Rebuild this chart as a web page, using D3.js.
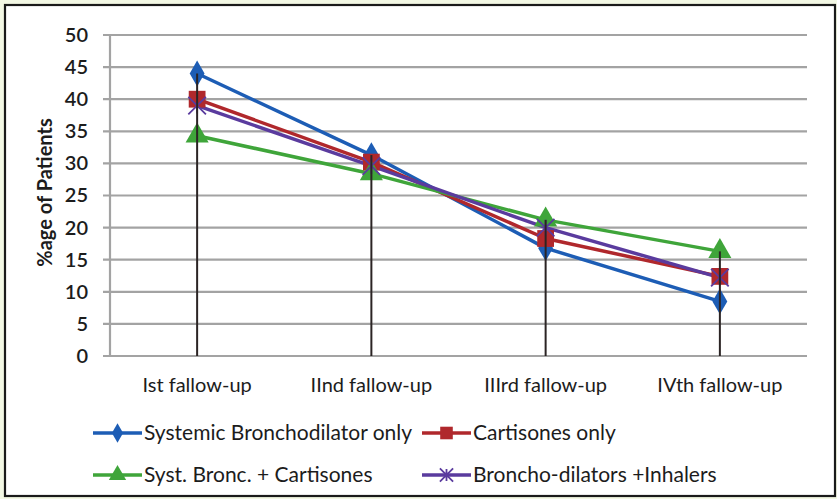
<!DOCTYPE html>
<html>
<head>
<meta charset="utf-8">
<script src="https://cdn.jsdelivr.net/npm/d3@7"></script>
<style>
  html, body { margin: 0; padding: 0; background: #f3f8e4; }
  svg { display: block; }
  text { font-family: "Lato", "Open Sans", sans-serif; fill: #1c1c1c; }
</style>
</head>
<body>
<svg id="chart" width="837" height="499"></svg>
<script>
// Follow-up visits (x axis)
const categories = ["Ist fallow-up", "IInd fallow-up", "IIIrd fallow-up", "IVth fallow-up"];

// Percentage of patients per treatment group
const systemicBronchodilator = [44, 31.3, 16.8, 8.5];
const cartisonesOnly = [40, 30.2, 18.3, 12.4];
const systBroncCartisones = [34.3, 28.4, 21.2, 16.3];
const bronchoInhalers = [39, 29.6, 20, 12.2];

const seriesNames = [
  "Systemic Bronchodilator only",
  "Cartisones only",
  "Syst. Bronc. + Cartisones",
  "Broncho-dilators +Inhalers"
];

const yTicks = [0, 5, 10, 15, 20, 25, 30, 35, 40, 45, 50];

const series = [
  { name: seriesNames[0], values: systemicBronchodilator, color: "#1d5db5", symbol: "diamond" },
  { name: seriesNames[1], values: cartisonesOnly, color: "#b0282c", symbol: "square" },
  { name: seriesNames[2], values: systBroncCartisones, color: "#3fa53a", symbol: "triangle" },
  { name: seriesNames[3], values: bronchoInhalers, color: "#5a3b9e", symbol: "cross" }
];

const svg = d3.select("#chart");

// outer frame
svg.append("rect")
  .attr("x", 5).attr("y", 5).attr("width", 830).attr("height", 491)
  .attr("fill", "#fff").attr("stroke", "#1a1a1a").attr("stroke-width", 2.2);

const plot = { left: 110, right: 807, top: 35, bottom: 356 };

const x = d3.scaleBand().domain(categories).range([plot.left, plot.right]);
const y = d3.scaleLinear().domain([0, 50]).range([plot.bottom, plot.top]);
const cx = c => x(c) + x.bandwidth() / 2;

// horizontal gridlines with outward tick marks
const grid = svg.append("g");
grid.selectAll("line").data(yTicks).join("line")
  .attr("x1", plot.left - 7).attr("x2", plot.right)
  .attr("y1", d => y(d)).attr("y2", d => y(d))
  .attr("stroke", "#a3a3a3").attr("stroke-width", 2.2);

// y axis line
svg.append("line")
  .attr("x1", plot.left).attr("x2", plot.left)
  .attr("y1", plot.top).attr("y2", plot.bottom)
  .attr("stroke", "#a3a3a3").attr("stroke-width", 2.2);

// y axis labels
const yAxis = d3.axisLeft(y).tickValues(yTicks).tickSize(0).tickPadding(0);
const yG = svg.append("g").attr("transform", `translate(${plot.left - 22},0)`).call(yAxis);
yG.select(".domain").remove();
yG.selectAll("text")
  .style("font-family", "Lato, 'Open Sans', sans-serif")
  .style("font-size", "20px").style("font-weight", "600").attr("fill", "#1c1c1c");

// y axis title
svg.append("text")
  .attr("transform", `translate(45,${(plot.top + plot.bottom) / 2 - 3}) rotate(-90)`)
  .attr("text-anchor", "middle").attr("dy", "0.35em")
  .style("font-size", "20px").style("font-weight", "700")
  .text("%age of Patients");

// category labels
const xAxis = d3.axisBottom(x).tickSize(0).tickPadding(0);
const xG = svg.append("g").attr("transform", `translate(0,${plot.bottom + 21})`).call(xAxis);
xG.select(".domain").remove();
xG.selectAll("text")
  .attr("dy", "0.75em")
  .style("font-family", "Lato, 'Open Sans', sans-serif")
  .style("font-size", "20px").attr("fill", "#1c1c1c");

// series lines
const line = d3.line().x((d, i) => cx(categories[i])).y(d => y(d));
svg.append("g").selectAll("path").data(series).join("path")
  .attr("d", s => line(s.values))
  .attr("fill", "none").attr("stroke", s => s.color)
  .attr("stroke-width", 3.5).attr("stroke-linejoin", "round");

// marker symbols
function drawMarker(g, sym, color, size) {
  if (sym === "cross") {
    const r = size * 0.55;
    g.append("path")
      .attr("d", `M${-r},${-r}L${r},${r}M${-r},${r}L${r},${-r}M0,${-r * 0.9}L0,${r * 0.9}`)
      .attr("stroke", color).attr("stroke-width", 1.8).attr("fill", "none");
  } else {
    const t = { diamond: d3.symbolDiamond, square: d3.symbolSquare, triangle: d3.symbolTriangle }[sym];
    const area = { diamond: size * size * 0.75, square: size * size * 1.1, triangle: size * size * 0.9 }[sym];
    g.append("path").attr("d", d3.symbol(t, area)()).attr("fill", color);
  }
}

series.forEach(s => {
  const mg = svg.append("g");
  s.values.forEach((v, i) => {
    const g = mg.append("g").attr("transform", `translate(${cx(categories[i])},${y(v)})`);
    drawMarker(g, s.symbol, s.color, 16);
  });
});

// drop lines from the highest point of each category down to the axis
svg.append("g").selectAll("line").data(categories).join("line")
  .attr("x1", c => cx(c)).attr("x2", c => cx(c))
  .attr("y1", (c, i) => y(d3.max(series, s => s.values[i])))
  .attr("y2", plot.bottom)
  .attr("stroke", "#2b2424").attr("stroke-width", 2);

// legend
const legendItems = [
  { s: series[0], x: 93, y: 433 },
  { s: series[1], x: 422, y: 433 },
  { s: series[2], x: 93, y: 475 },
  { s: series[3], x: 422, y: 475 }
];
legendItems.forEach(it => {
  const g = svg.append("g").attr("transform", `translate(${it.x},${it.y})`);
  g.append("line").attr("x1", 0).attr("x2", 49).attr("y1", 0).attr("y2", 0)
    .attr("stroke", it.s.color).attr("stroke-width", 3.5);
  const m = g.append("g").attr("transform", "translate(24.5,0)");
  drawMarker(m, it.s.symbol, it.s.color, 12);
  g.append("text").attr("x", 51).attr("y", 0).attr("dy", "0.35em")
    .style("font-size", "21px").text(it.s.name);
});
</script>
</body>
</html>
